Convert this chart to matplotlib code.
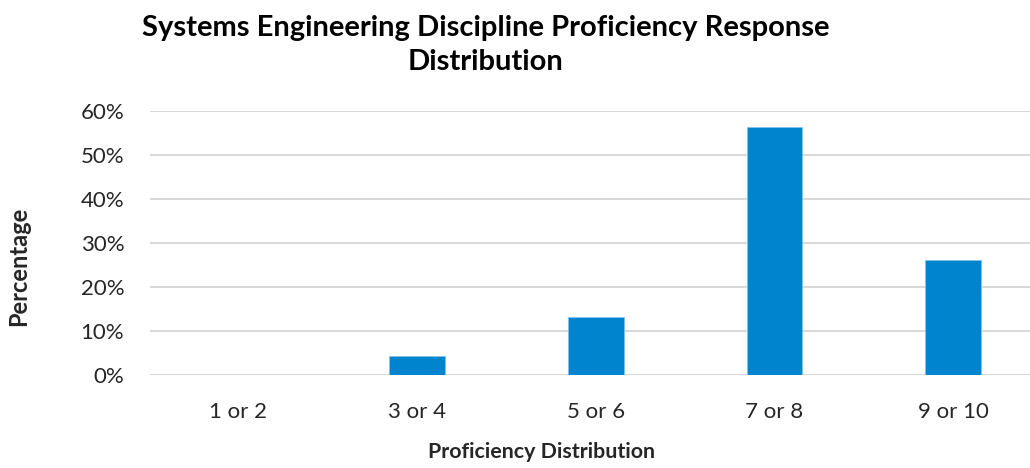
import matplotlib
matplotlib.use("Agg")
import matplotlib.pyplot as plt
from matplotlib.ticker import PercentFormatter

# Survey response shares per proficiency bucket
categories = ["1 or 2", "3 or 4", "5 or 6", "7 or 8", "9 or 10"]
shares = [0.0, 0.043, 0.131, 0.564, 0.260]
y_ticks = [0.0, 0.1, 0.2, 0.3, 0.4, 0.5, 0.6]

plt.rcParams["font.family"] = ["Lato", "DejaVu Sans"]
text_color = "#262626"

fig = plt.figure(figsize=(10.3, 4.68), dpi=100)
ax = fig.add_axes([150 / 1030, 93.3 / 468, 880 / 1030, 263.7 / 468])

x = range(len(categories))
ax.bar(x, shares, width=0.313, color="#0084CE", edgecolor="#7FC4EC",
       linewidth=0.6, zorder=3)

ax.set_xlim(-0.495, 4.43)
ax.set_ylim(0, 0.6)
ax.set_yticks(y_ticks)
ax.yaxis.set_major_formatter(PercentFormatter(1.0, decimals=0))
ax.set_xticks(list(x))
ax.set_xticklabels(categories)

ax.grid(axis="y", color="#D9D9D9", linewidth=1.5, zorder=0)
for side in ["top", "right", "left", "bottom"]:
    ax.spines[side].set_visible(False)
ax.tick_params(axis="both", length=0, labelsize=16, colors=text_color)
ax.tick_params(axis="x", pad=20)
ax.tick_params(axis="y", pad=18.5)

fig.text(486 / 1030, 1 - 45 / 468,
         "Systems Engineering Discipline Proficiency Response\nDistribution",
         ha="center", va="center", fontsize=21, fontweight="bold",
         color="black", linespacing=1.35)
fig.text(541 / 1030, 1 - 452 / 468, "Proficiency Distribution",
         ha="center", va="center", fontsize=15.4, fontweight="bold",
         color=text_color)
fig.text(19 / 1030, 1 - 266 / 468, "Percentage", rotation=90,
         ha="center", va="center", fontsize=17, fontweight="bold",
         color=text_color)

fig.savefig("out.png", dpi=100, facecolor="white")
